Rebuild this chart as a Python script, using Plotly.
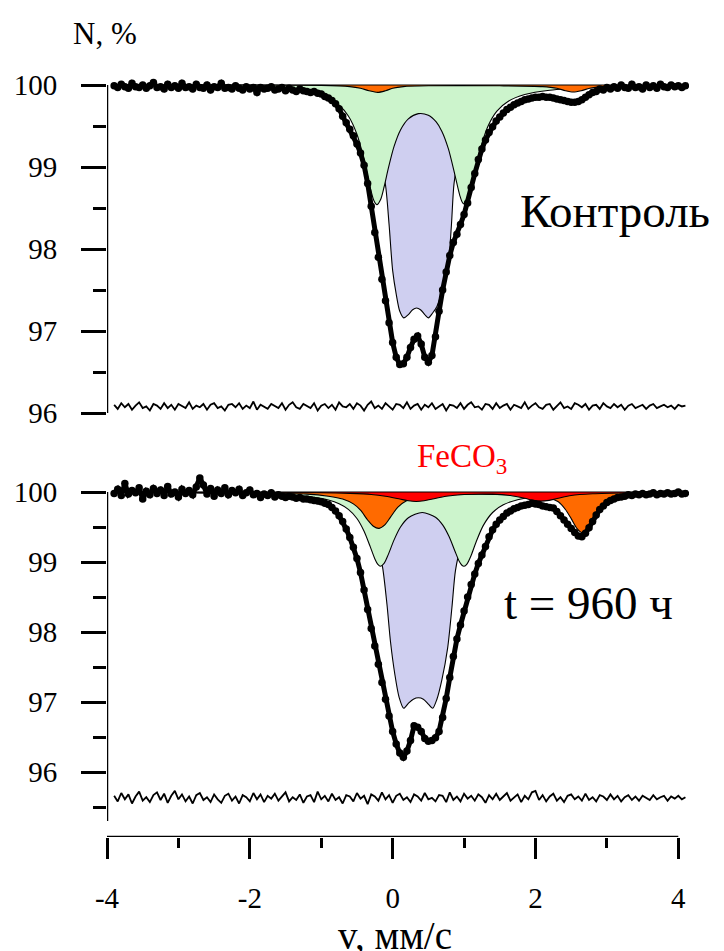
import numpy as np
import plotly.graph_objects as go

# ---------------- data ----------------
V_START, V_STEP = -3.90, 0.05          # velocity channels, mm/s

# measured transmission N, %  (upper panel: "Контроль")
data_top = [
    99.99, 99.97, 100.01, 99.98, 99.96, 100.02, 99.98, 99.97, 100.00, 99.96,
    99.99, 100.03, 99.97, 99.98, 99.95, 100.01, 99.97, 99.99, 99.96, 100.02,
    99.97, 99.98, 99.95, 100.01, 99.97, 99.96, 100.00, 99.94, 99.98, 99.97,
    100.02, 99.96, 99.97, 99.95, 99.99, 99.96, 99.94, 99.98, 99.95, 99.97,
    99.91, 99.97, 99.95, 99.96, 99.98, 99.94, 99.95, 99.97, 99.93, 99.96,
    99.94, 99.92, 99.95, 99.93, 99.92, 99.91, 99.92, 99.90, 99.89, 99.86,
    99.84, 99.81, 99.77, 99.71, 99.62, 99.54, 99.46, 99.38, 99.28, 99.17,
    99.02, 98.80, 98.52, 98.20, 97.90, 97.63, 97.37, 97.10, 96.86, 96.68,
    96.59, 96.60, 96.68, 96.80, 96.90, 96.94, 96.84, 96.68, 96.62, 96.70,
    96.93, 97.24, 97.50, 97.72, 97.92, 98.08, 98.18, 98.30, 98.42, 98.56,
    98.75, 98.92, 99.09, 99.22, 99.33, 99.42, 99.49, 99.56, 99.61, 99.66,
    99.70, 99.73, 99.76, 99.78, 99.80, 99.82, 99.83, 99.84, 99.85, 99.85,
    99.86, 99.85, 99.85, 99.84, 99.83, 99.82, 99.81, 99.80, 99.79, 99.79,
    99.80, 99.82, 99.85, 99.88, 99.91, 99.92, 99.95, 99.94, 99.97, 99.95,
    99.98, 99.96, 100.00, 99.97, 99.96, 100.01, 99.97, 99.98, 99.95, 100.00,
    99.97, 99.99, 99.96, 100.01, 99.98, 99.97, 100.00, 99.98, 99.99, 99.97,
    99.99,
]

# measured transmission N, %  (lower panel: t = 960 h)
data_bot = [
    99.98, 100.04, 99.95, 100.12, 99.97, 100.02, 99.99, 100.06, 99.90, 100.01,
    99.96, 100.05, 99.98, 100.03, 99.95, 100.08, 99.97, 100.00, 99.93, 100.04,
    99.98, 100.02, 99.96, 100.07, 100.20, 100.10, 99.97, 100.05, 99.94, 100.03,
    99.98, 100.06, 99.96, 100.02, 99.99, 100.04, 99.95, 99.99, 100.03, 99.96,
    99.98, 99.92, 99.97, 99.95, 99.99, 99.93, 99.96, 99.94, 99.92, 99.94,
    99.93, 99.91, 99.92, 99.90, 99.90, 99.89, 99.88, 99.87, 99.86, 99.84,
    99.82, 99.78, 99.73, 99.66, 99.58, 99.47, 99.35, 99.21, 99.05, 98.85,
    98.60, 98.32, 98.05, 97.80, 97.54, 97.28, 97.04, 96.80, 96.58, 96.40,
    96.27, 96.21, 96.30, 96.45, 96.66, 96.64, 96.58, 96.48, 96.44, 96.45,
    96.49, 96.58, 96.78, 97.05, 97.35, 97.65, 97.90, 98.10, 98.30, 98.50,
    98.68, 98.83, 98.98, 99.10, 99.22, 99.36, 99.46, 99.54, 99.60, 99.65,
    99.70, 99.73, 99.76, 99.78, 99.80, 99.81, 99.82, 99.84, 99.83, 99.82,
    99.80, 99.79, 99.78, 99.77, 99.72, 99.66, 99.60, 99.54, 99.48, 99.42,
    99.37, 99.36, 99.41, 99.49, 99.58, 99.67, 99.75, 99.80, 99.85, 99.88,
    99.90, 99.92, 99.93, 99.94, 99.96, 99.95, 99.97, 99.96, 99.98, 99.96,
    99.97, 99.99, 99.96, 99.98, 99.97, 99.99, 99.97, 99.98, 100.00, 99.97,
    99.98,
]

# fit residuals, % (plotted shifted below the spectra)
resid_top = [
    0.02, -0.03, 0.04, -0.01, 0.03, -0.04, 0.01, 0.05, -0.02, 0.00,
    -0.05, 0.03, 0.01, -0.03, 0.04, -0.02, 0.02, -0.04, 0.03, 0.00,
    -0.02, 0.05, -0.03, 0.01, -0.01, 0.03, -0.04, 0.02, 0.04, -0.02,
    0.00, -0.05, 0.02, 0.03, -0.01, 0.04, -0.03, 0.01, -0.02, 0.06,
    -0.04, 0.02, 0.00, -0.03, 0.03, 0.01, -0.02, 0.04, -0.04, 0.02,
    0.05, -0.01, -0.03, 0.03, 0.00, -0.02, 0.04, -0.05, 0.01, 0.03,
    -0.02, 0.02, -0.04, 0.05, 0.00, -0.01, 0.03, -0.03, 0.04, 0.01,
    -0.05, 0.02, 0.06, -0.02, 0.01, -0.03, 0.04, 0.00, -0.04, 0.03,
    0.02, -0.02, 0.05, -0.03, 0.01, 0.03, -0.04, 0.02, -0.01, 0.04,
    -0.03, 0.00, 0.03, -0.05, 0.02, 0.01, -0.02, 0.04, -0.03, 0.02,
    0.05, -0.01, 0.00, -0.04, 0.03, 0.02, -0.03, 0.04, -0.02, 0.01,
    0.03, -0.04, 0.02, 0.00, -0.02, 0.05, -0.03, 0.01, 0.04, -0.01,
    -0.03, 0.02, 0.03, -0.04, 0.01, 0.05, -0.02, 0.00, -0.03, 0.04,
    0.02, -0.01, 0.03, -0.04, 0.01, 0.02, -0.03, 0.04, 0.00, -0.02,
    0.03, -0.01, 0.02, -0.04, 0.01, 0.03, -0.02, 0.00, 0.02, -0.03,
    0.01, 0.03, -0.02, 0.00, 0.02, -0.01, 0.01, -0.03, 0.02, 0.00,
    0.01,
]
resid_bot = [
    0.03, -0.05, 0.07, -0.02, 0.05, -0.08, 0.02, 0.09, -0.04, 0.01,
    -0.06, 0.04, 0.08, -0.03, 0.06, -0.07, 0.03, 0.10, -0.02, 0.05,
    -0.05, 0.02, -0.08, 0.04, 0.07, -0.03, 0.01, -0.06, 0.05, -0.02,
    -0.07, 0.03, 0.06, -0.04, 0.02, -0.08, 0.04, 0.01, -0.05, 0.07,
    -0.02, 0.05, -0.06, 0.03, -0.01, 0.06, -0.04, 0.02, 0.08, -0.05,
    0.01, -0.03, 0.05, -0.07, 0.02, 0.04, -0.06, 0.09, -0.02, 0.03,
    -0.05, 0.06, -0.03, 0.01, -0.08, 0.04, 0.02, -0.05, 0.07, -0.01,
    0.03, -0.09, 0.05, 0.02, -0.04, 0.08, -0.02, 0.04, -0.07, 0.03,
    0.06, -0.03, 0.01, -0.06, 0.05, 0.02, -0.04, 0.07, -0.02, 0.00,
    -0.05, 0.04, 0.03, -0.06, 0.08, -0.03, 0.02, -0.05, 0.06, -0.01,
    0.03, -0.04, 0.05, 0.01, -0.07, 0.04, -0.02, 0.06, -0.03, 0.02,
    0.07, -0.04, 0.01, 0.05, -0.06, 0.03, -0.02, 0.08, 0.10, -0.03,
    0.04, -0.05, 0.02, 0.06, -0.04, 0.01, -0.06, 0.03, 0.05, -0.02,
    0.02, -0.04, 0.06, -0.03, 0.01, -0.05, 0.04, 0.02, -0.03, 0.05,
    -0.02, 0.03, -0.05, 0.01, 0.04, -0.03, 0.02, -0.04, 0.03, 0.00,
    -0.03, 0.04, -0.02, 0.01, 0.03, -0.04, 0.02, -0.01, 0.03, -0.02,
    0.01,
]
RESID_SHIFT_TOP = 96.08
RESID_SHIFT_BOT = 95.63

# ---- sub-spectra: velocity (mm/s) and absorption depth (100 - N), % ----
# upper panel
green_top_v = [-3.93, -2.5, -1.8, -1.4, -1.1, -0.9, -0.75, -0.62, -0.5, -0.4, -0.32, -0.26, -0.22,
               -0.17, -0.12, -0.06, 0.02, 0.11, 0.22, 0.36, 0.5, 0.61, 0.69, 0.78, 0.87, 0.94, 0.98,
               1.02, 1.07, 1.13, 1.22, 1.33, 1.46, 1.62, 1.85, 2.2, 2.8, 4.12]
green_top_a = [0, 0.02, 0.04, 0.065, 0.106, 0.165, 0.247, 0.378, 0.601, 0.912, 1.229, 1.416, 1.46,
               1.40, 1.244, 1.014, 0.749, 0.548, 0.413, 0.349, 0.369, 0.451, 0.566, 0.777, 1.09, 1.345, 1.438,
               1.456, 1.365, 1.15, 0.805, 0.511, 0.318, 0.198, 0.116, 0.064, 0.031, 0]
purple_top_v = [-3.93, -2.0, -1.4, -1.0, -0.7, -0.5, -0.36, -0.25, -0.16, -0.10, -0.05, 0.0, 0.05, 0.10,
                0.155, 0.22, 0.28, 0.335, 0.39, 0.45, 0.50, 0.56, 0.62, 0.69, 0.77, 0.82, 0.86, 0.92,
                1.0, 1.12, 1.3, 1.6, 2.1, 4.12]
purple_top_a = [0, 0.02, 0.04, 0.08, 0.15, 0.27, 0.45, 0.7, 0.98, 1.22, 1.7, 2.26, 2.55, 2.76,
                2.84, 2.80, 2.74, 2.72, 2.74, 2.80, 2.84, 2.78, 2.7, 2.52, 2.26, 1.75, 1.2, 0.9,
                0.7, 0.5, 0.3, 0.14, 0.05, 0]
orange_top_v = [-3.93, -1.0, -0.6, -0.45, -0.33, -0.21, -0.1, 0.0, 0.15, 0.5, 1.5, 2.1, 2.3, 2.42,
                2.53, 2.64, 2.76, 2.95, 3.4, 4.12]
orange_top_a = [0, 0.005, 0.02, 0.04, 0.07, 0.09, 0.07, 0.04, 0.02, 0.01, 0.01, 0.02, 0.04, 0.07,
                0.085, 0.07, 0.04, 0.02, 0.005, 0]

# lower panel
green_bot_v = [-3.93, -2.5, -1.8, -1.4, -1.1, -0.9, -0.75, -0.62, -0.5, -0.4, -0.32, -0.25, -0.21,
               -0.17, -0.12, -0.06, 0.02, 0.11, 0.22, 0.415, 0.6, 0.7, 0.79, 0.87, 0.93, 0.97, 1.0,
               1.04, 1.1, 1.17, 1.27, 1.4, 1.55, 1.75, 2.0, 2.5, 3.2, 4.12]
green_bot_a = [0, 0.015, 0.029, 0.047, 0.077, 0.115, 0.168, 0.248, 0.378, 0.56, 0.765, 0.953, 1.03,
               1.06, 1.021, 0.891, 0.684, 0.50, 0.368, 0.293, 0.36, 0.47, 0.637, 0.839, 0.985, 1.046, 1.06,
               1.03, 0.903, 0.71, 0.477, 0.293, 0.183, 0.11, 0.068, 0.034, 0.017, 0]
purple_bot_v = [-3.93, -2.0, -1.4, -1.0, -0.7, -0.5, -0.38, -0.28, -0.2, -0.14, -0.08, -0.03, 0.03,
                0.09, 0.155, 0.22, 0.29, 0.36, 0.43, 0.5, 0.56, 0.62, 0.69, 0.77, 0.83, 0.88, 0.95,
                1.05, 1.2, 1.45, 1.8, 2.3, 4.12]
purple_bot_a = [0, 0.02, 0.035, 0.06, 0.12, 0.22, 0.36, 0.55, 0.8, 1.08, 1.6, 2.14, 2.6,
                2.93, 3.09, 3.02, 2.96, 2.94, 2.96, 3.03, 3.09, 2.96, 2.68, 2.23, 1.65, 1.12, 0.8,
                0.55, 0.33, 0.17, 0.07, 0.03, 0]
orange_bot_v = [-3.93, -1.2, -0.9, -0.7, -0.55, -0.45, -0.35, -0.27, -0.19, -0.11, -0.03, 0.07, 0.2,
                0.4, 0.7, 1.2, 1.7, 2.0, 2.2, 2.32, 2.42, 2.5, 2.58, 2.65, 2.72, 2.8, 2.9, 3.0, 3.12,
                3.35, 3.8, 4.12]
orange_bot_a = [0, 0.03, 0.06, 0.1, 0.17, 0.26, 0.4, 0.49, 0.52, 0.47, 0.36, 0.22, 0.12,
                0.07, 0.04, 0.03, 0.04, 0.06, 0.09, 0.14, 0.25, 0.38, 0.52, 0.58, 0.52, 0.4, 0.25, 0.14, 0.08,
                0.04, 0.02, 0]
red_bot_v = [-3.93, -1.0, -0.6, -0.3, -0.1, 0.1, 0.22, 0.33, 0.44, 0.56, 0.75, 1.0, 1.4, 1.65, 1.85,
             1.97, 2.08, 2.19, 2.32, 2.5, 2.8, 3.3, 4.12]
red_bot_a = [0, 0.01, 0.02, 0.035, 0.06, 0.1, 0.125, 0.135, 0.125, 0.1, 0.06, 0.035, 0.03, 0.05, 0.09,
             0.12, 0.13, 0.12, 0.09, 0.05, 0.025, 0.01, 0]

BASE_V = [-3.93, 4.12]
BASE_N = [100, 100]

X_TICK_LABELS = ["-4", "-2", "0", "2", "4"]

# ---------------- styles ----------------
GREEN = "#ccf4cc"
PURPLE = "#cfcff0"
ORANGE = "#ff6a00"
RED = "#ff0000"
FONT = "Liberation Serif, Times New Roman, Tinos, DejaVu Serif, serif"
W, H = 724, 951
ML, MR = 107, 35


def yp(py):
    return (H - py) / H


def xp(px):
    return (px - ML) / (W - ML - MR)


fig = go.Figure()


def add_comp(v, a, color, xa, ya):
    fig.add_trace(go.Scatter(
        x=v, y=[100 - q for q in a], mode="lines", fill="toself", fillcolor=color,
        line=dict(color="black", width=1.1, shape="spline", smoothing=0.8),
        xaxis=xa, yaxis=ya, hoverinfo="skip"))


def add_panel(data, resid, shift, comps, xa, ya):
    for v, a, c in comps:
        add_comp(v, a, c, xa, ya)
    fig.add_trace(go.Scatter(x=BASE_V, y=BASE_N, mode="lines",
                             line=dict(color="black", width=1), xaxis=xa, yaxis=ya))
    vr = V_START + V_STEP * np.arange(len(resid))
    fig.add_trace(go.Scatter(x=vr, y=np.array(resid) + shift, mode="lines",
                             line=dict(color="black", width=1.8), xaxis=xa, yaxis=ya))
    vd = V_START + V_STEP * np.arange(len(data))
    fig.add_trace(go.Scatter(x=vd, y=data, mode="lines+markers",
                             line=dict(color="black", width=5),
                             marker=dict(color="black", size=7.5),
                             xaxis=xa, yaxis=ya))


add_panel(data_top, resid_top, RESID_SHIFT_TOP,
          [(purple_top_v, purple_top_a, PURPLE),
           (green_top_v, green_top_a, GREEN),
           (orange_top_v, orange_top_a, ORANGE)], "x", "y")
add_panel(data_bot, resid_bot, RESID_SHIFT_BOT,
          [(purple_bot_v, purple_bot_a, PURPLE),
           (green_bot_v, green_bot_a, GREEN),
           (orange_bot_v, orange_bot_a, ORANGE),
           (red_bot_v, red_bot_a, RED)], "x2", "y2")

XR = [-4, 4.15]
top_rng = [96 - (430 - 413) / 82, 100 + (85 - 60) / 82]
bot_rng = [100 - (837 - 492) / 70, 100 + (492 - 465) / 70]

yax = dict(tickmode="linear", tick0=0, dtick=1, ticks="outside", ticklen=25, tickwidth=2.5,
           tickcolor="black", showline=False, showgrid=False, zeroline=False,
           tickfont=dict(family=FONT, size=29, color="black"), ticklabelstandoff=18,
           minor=dict(dtick=0.5, ticks="outside", ticklen=13, tickwidth=2.5, tickcolor="black",
                      showgrid=False),
           automargin=False)

fig.update_layout(
    width=W, height=H, template="none", showlegend=False,
    paper_bgcolor="white", plot_bgcolor="rgba(0,0,0,0)",
    margin=dict(l=ML, r=MR, t=0, b=0),
    font=dict(family=FONT, color="black"),
    xaxis=dict(domain=[0, 1], range=XR, visible=False, anchor="y"),
    yaxis=dict(domain=[yp(430), yp(60)], range=top_rng, anchor="x", **yax),
    xaxis2=dict(domain=[0, 1], range=XR, anchor="y2", tickmode="array",
                tickvals=[-4, -2, 0, 2, 4], ticktext=X_TICK_LABELS,
                ticks="outside", ticklen=21, tickwidth=2.5, tickcolor="black",
                showline=False, showgrid=False, zeroline=False,
                tickfont=dict(family=FONT, size=29, color="black"), ticklabelstandoff=14,
                minor=dict(tickvals=[-3, -1, 1, 3], ticks="outside", ticklen=10, tickwidth=2.5,
                           tickcolor="black", showgrid=False),
                automargin=False),
    yaxis2=dict(domain=[yp(837), yp(465)], range=bot_rng, anchor="x2", **yax),
)

# axis lines (only over the labelled span)
AX = dict(color="black", width=2.5)
fig.add_shape(type="line", xref="x", yref="y", x0=-4, x1=-4, y0=96, y1=100, line=AX)
fig.add_shape(type="line", xref="x2", yref="y2", x0=-4, x1=-4, y0=95.3, y1=100, line=AX)
fig.add_shape(type="line", xref="x2", yref="y2", x0=-4, x1=4, y0=bot_rng[0], y1=bot_rng[0], line=AX)

ann = [
    dict(text="N, %", x=xp(105), y=yp(33), size=31, color="black"),
    dict(text="Контроль", x=xp(615), y=yp(211), size=47, color="black"),
    dict(text="t = 960 ч", x=xp(588), y=yp(603), size=47, color="black"),
    dict(text="FeCO<sub>3</sub>", x=xp(462), y=yp(458), size=33, color="#ff0000"),
    dict(text="v, мм/с", x=xp(395), y=yp(935), size=39, color="black"),
]
for a in ann:
    fig.add_annotation(text=a["text"], x=a["x"], y=a["y"], xref="paper", yref="paper",
                       showarrow=False, xanchor="center", yanchor="middle",
                       font=dict(family=FONT, size=a["size"], color=a["color"]))

fig.write_html("out.html", config={"displayModeBar": False},
               post_script="document.body.style.margin='0';")
